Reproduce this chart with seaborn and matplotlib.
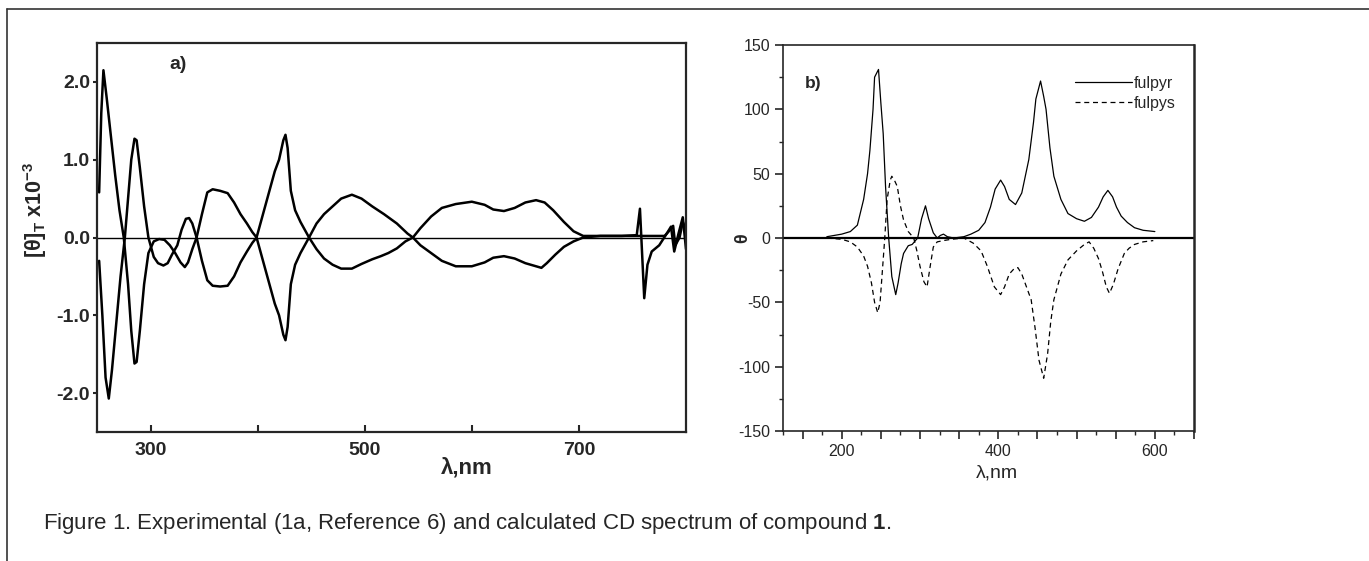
import numpy as np
import pandas as pd
import matplotlib
matplotlib.use("Agg")
import matplotlib.pyplot as plt
from matplotlib.lines import Line2D
from matplotlib.ticker import MultipleLocator, FixedLocator
import seaborn as sns

sns.set_style("ticks")
plt.rcParams['font.family'] = ['Liberation Sans', 'DejaVu Sans']
plt.rcParams['axes.unicode_minus'] = False
plt.rcParams['mathtext.fontset'] = 'custom'
plt.rcParams['mathtext.rm'] = 'Liberation Sans:bold'
plt.rcParams['mathtext.bf'] = 'Liberation Sans:bold'

# panel a: experimental CD, two enantiomers
wl_a1 = [252, 254, 256, 259, 263, 267, 271, 275, 279, 282, 285, 287, 290, 294, 298, 303, 308, 313,
         318, 323, 328, 332, 335, 339, 343, 348, 353, 358, 365, 372, 378, 384, 390, 395, 399, 404,
         410, 416, 420, 424, 426, 428, 431, 435, 440, 448, 455, 462, 470, 478, 488, 497, 507, 518,
         530, 540, 545, 552, 562, 572, 585, 600, 612, 620, 630, 640, 650, 660, 665, 670, 678, 686,
         695, 704, 720, 740, 754, 757, 761, 764, 768, 775, 782, 786, 789, 793, 797, 800]
cd_a1 = [0.58, 1.6, 2.15, 1.8, 1.3, 0.8, 0.35, 0.0, -0.6, -1.2, -1.62, -1.6, -1.2, -0.6, -0.2, -0.05,
         -0.02, -0.03, -0.1, -0.2, -0.32, -0.38, -0.32, -0.15, 0.0, 0.3, 0.58, 0.62, 0.6, 0.57, 0.45,
         0.3, 0.18, 0.07, 0.0, -0.25, -0.55, -0.85, -1.0, -1.25, -1.32, -1.15, -0.6, -0.35, -0.2, 0.0,
         0.18, 0.3, 0.4, 0.5, 0.55, 0.5, 0.4, 0.3, 0.18, 0.05, 0.0, -0.1, -0.2, -0.3, -0.37, -0.37,
         -0.32, -0.26, -0.24, -0.27, -0.33, -0.37, -0.39, -0.33, -0.22, -0.12, -0.05, 0.0, 0.02, 0.02,
         0.03, 0.37, -0.78, -0.35, -0.18, -0.1, 0.05, 0.14, -0.18, 0.05, 0.26, -0.15]

wl_a2 = [252, 255, 258, 261, 264, 268, 272, 276, 279, 282, 285, 287, 290, 294, 298, 303, 307, 312,
         316, 320, 325, 329, 333, 336, 339, 343, 348, 353, 358, 365, 372, 378, 384, 390, 395, 399,
         404, 410, 416, 420, 424, 426, 428, 431, 435, 440, 448, 455, 462, 470, 478, 488, 497, 507,
         515, 522, 530, 538, 545, 552, 562, 572, 585, 600, 612, 620, 630, 640, 650, 660, 668, 676,
         686, 695, 704, 720, 740, 780, 784, 788, 790, 794, 797, 800]
cd_a2 = [-0.3, -1.0, -1.8, -2.07, -1.7, -1.1, -0.5, 0.0, 0.5, 1.0, 1.27, 1.25, 0.9, 0.4, 0.0, -0.25,
         -0.33, -0.36, -0.33, -0.22, -0.1, 0.1, 0.24, 0.25, 0.18, 0.0, -0.3, -0.55, -0.62, -0.63,
         -0.62, -0.5, -0.32, -0.18, -0.07, 0.0, 0.25, 0.55, 0.85, 1.0, 1.25, 1.32, 1.15, 0.6, 0.35,
         0.2, 0.0, -0.15, -0.27, -0.35, -0.4, -0.4, -0.34, -0.28, -0.24, -0.2, -0.14, -0.05, 0.0,
         0.12, 0.27, 0.38, 0.43, 0.46, 0.42, 0.36, 0.34, 0.38, 0.45, 0.48, 0.45, 0.35, 0.2, 0.08,
         0.02, 0.02, 0.02, 0.02, 0.08, 0.15, -0.1, 0.0, 0.2, 0.1]

# panel b: calculated CD
wl_r = [181, 200, 211, 220, 228, 233, 236, 240, 242, 247, 250, 253, 256, 260, 264, 269, 272, 276,
        279, 285, 290, 297, 302, 307, 311, 317, 322, 326, 330, 335, 343, 356, 365, 375, 383, 390,
        396, 403, 408, 414, 422, 430, 439, 445, 448, 451, 454, 458, 461, 466, 471, 480, 489, 500,
        510, 519, 528, 534, 540, 546, 551, 557, 565, 574, 585, 600]
fulpyr = [1, 3, 5, 10, 30, 50, 68, 100, 125, 131, 105, 81, 40, 0, -30, -44, -35, -20, -12, -6, -5,
          0, 15, 25, 15, 4, 0, 2, 3, 1, 0, 1, 3, 6, 12, 24, 38, 45, 40, 30, 26, 35, 61, 90, 108,
          115, 122, 110, 100, 70, 48, 30, 19, 15, 13, 16, 24, 32, 37, 32, 24, 17, 12, 8, 6, 5]

wl_s = [181, 200, 211, 220, 228, 233, 238, 242, 246, 249, 252, 255, 258, 262, 264, 268, 271, 275,
        279, 285, 292, 296, 300, 305, 309, 313, 317, 322, 330, 340, 356, 368, 378, 386, 395, 403,
        408, 414, 420, 425, 430, 436, 442, 447, 452, 458, 463, 467, 471, 480, 489, 500, 510, 516,
        522, 528, 533, 538, 542, 547, 553, 561, 567, 574, 585, 598]
fulpys = [0, -1, -3, -7, -14, -22, -35, -50, -58, -50, -25, 0, 30, 45, 48, 44, 40, 25, 14, 5, 0,
          -10, -22, -34, -38, -22, -7, -3, -2, -1, 0, -4, -10, -22, -38, -44, -38, -28, -24, -23,
          -28, -38, -48, -70, -95, -109, -90, -65, -48, -28, -17, -10, -5, -3, -8, -16, -26, -38,
          -43, -36, -24, -12, -8, -5, -3, -2]

caption = "Figure 1. Experimental (1a, Reference 6) and calculated CD spectrum of compound $\\mathbf{1}$."

W, H = 1369, 561
fig = plt.figure(figsize=(W / 100, H / 100), dpi=100)


def box(l, t, r, b):
    return [l / W, 1 - b / H, (r - l) / W, (b - t) / H]


# ---- panel a ----
ax1 = fig.add_axes(box(97, 43, 686, 432))
sns.lineplot(x=wl_a1, y=cd_a1, ax=ax1, color='black', lw=1.8, estimator=None, sort=False)
sns.lineplot(x=wl_a2, y=cd_a2, ax=ax1, color='black', lw=1.8, estimator=None, sort=False)
ax1.axhline(0, color='black', lw=1.0)
ax1.set_xlim(250, 800)
ax1.set_ylim(-2.5, 2.5)
ax1.xaxis.set_major_locator(FixedLocator([300, 400, 500, 600, 700]))
ax1.set_xticklabels(['300', '', '500', '', '700'])
ax1.yaxis.set_major_locator(FixedLocator([-2, -1, 0, 1, 2]))
ax1.set_yticklabels(['-2.0', '-1.0', '0.0', '1.0', '2.0'])
ax1.tick_params(axis='x', direction='in', length=5, width=1.5, pad=7)
ax1.tick_params(axis='y', direction='out', length=3, width=1.5, pad=2)
for lab in ax1.get_xticklabels() + ax1.get_yticklabels():
    lab.set_fontweight('bold')
    lab.set_fontsize(14)
for sp in ax1.spines.values():
    sp.set_linewidth(1.6)
ax1.text(0.1375, 0.946, 'a)', transform=ax1.transAxes, fontsize=14, fontweight='bold',
         ha='center', va='center')
fig.text(35 / W, 1 - 210 / H, '[θ]$_\\mathbf{T}$ x10$^\\mathbf{-3}$', rotation=90,
         fontsize=15.5, fontweight='bold', ha='center', va='center')
fig.text(467 / W, 1 - 468 / H, 'λ,nm', fontsize=16, fontweight='bold', ha='center', va='center')

# ---- panel b ----
ax2 = fig.add_axes(box(783, 45, 1194, 431))
sns.lineplot(x=wl_r, y=fulpyr, ax=ax2, color='black', lw=0.9, estimator=None, label='fulpyr')
sns.lineplot(x=wl_s, y=fulpys, ax=ax2, color='black', lw=0.9, estimator=None, label='fulpys',
             linestyle=(0, (4, 3)))
ax2.axhline(0, color='black', lw=1.6)
ax2.set_xlim(125, 650)
ax2.set_ylim(-150, 150)
ax2.xaxis.set_major_locator(MultipleLocator(50))
ax2.xaxis.set_minor_locator(MultipleLocator(25))
ax2.xaxis.set_major_formatter(plt.FuncFormatter(lambda v, p: f'{int(v)}' if v % 200 == 0 else ''))
ax2.yaxis.set_major_locator(MultipleLocator(50))
ax2.yaxis.set_minor_locator(MultipleLocator(25))
ax2.tick_params(which='major', direction='out', length=6, width=1.2, labelsize=11.5, pad=3)
ax2.tick_params(which='minor', direction='out', length=3, width=1.0)
for sp in ax2.spines.values():
    sp.set_linewidth(1.2)
ax2.spines['right'].set_linewidth(1.8)
leg = ax2.legend(loc='upper left', bbox_to_anchor=(0.71, 0.92), frameon=False, fontsize=11.5,
                 handlelength=3.6, handletextpad=0.1, labelspacing=0.3, borderpad=0,
                 borderaxespad=0)
ax2.text(0.073, 0.90, 'b)', transform=ax2.transAxes, fontsize=12.5, fontweight='bold',
         ha='center', va='center')
fig.text(743 / W, 1 - 238 / H, 'θ', rotation=90, fontsize=13, fontweight='bold',
         ha='center', va='center')
fig.text(997 / W, 1 - 473 / H, 'λ,nm', fontsize=14, ha='center', va='center')

# frame and caption
fig.add_artist(Line2D([7 / W, 1], [1 - 9 / H, 1 - 9 / H], color='#333333', lw=1.2))
fig.add_artist(Line2D([7 / W, 7 / W], [0, 1 - 9 / H], color='#333333', lw=1.2))
fig.text(43 / W, 1 - 523 / H, caption, fontsize=16, ha='left', va='center')

fig.savefig('out.png', dpi=100)
